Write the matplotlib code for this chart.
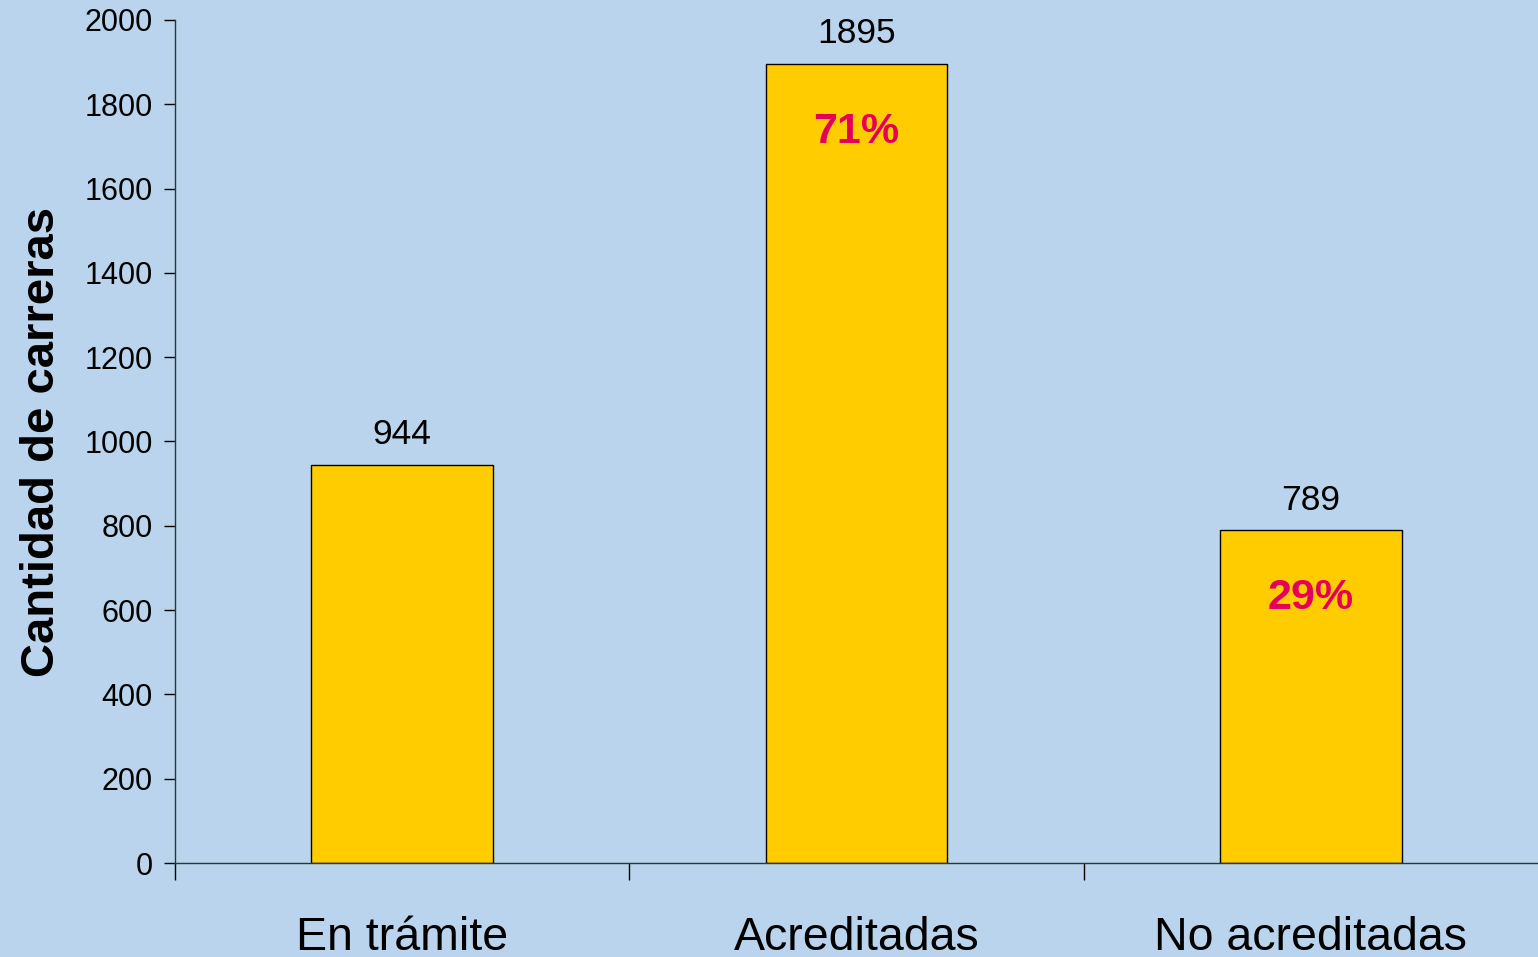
import matplotlib
matplotlib.use("Agg")
import matplotlib.pyplot as plt
import numpy as np

# ---- Data ----
categories = ["En trámite", "Acreditadas", "No acreditadas"]
values = [944, 1895, 789]
pct_labels = ["", "71%", "29%"]
y_ticks = list(range(0, 2001, 200))

BG = "#B9D4EC"
BAR = "#FFCC00"
PCT = "#E5005A"

plt.rcParams["font.family"] = ["Liberation Sans", "DejaVu Sans"]

fig = plt.figure(figsize=(15.38, 9.57), dpi=100, facecolor=BG)
ax = fig.add_axes([0.1138, 0.0982, 0.8862, 0.881])
ax.set_facecolor(BG)

x = np.arange(len(categories))
bars = ax.bar(x, values, width=0.4, color=BAR, edgecolor="black", linewidth=1)

ax.set_xlim(-0.5, 2.5)
ax.set_ylim(0, 2000)
ax.set_yticks(y_ticks)
ax.tick_params(axis="y", labelsize=22, length=8, width=1, direction="out", pad=8)

# category labels at centres, tick marks between categories
ax.set_xticks(x)
ax.set_xticklabels(categories, fontsize=33.5)
ax.tick_params(axis="x", which="major", length=0, pad=38)
ax.set_xticks(np.arange(-0.5, 3.0, 1.0)[:-1], minor=True)
ax.tick_params(axis="x", which="minor", length=12, width=1, direction="out")

for s in ["top", "right"]:
    ax.spines[s].set_visible(False)
for s in ["left", "bottom"]:
    ax.spines[s].set_color("#333333")
    ax.spines[s].set_linewidth(1)

ax.set_ylabel("Cantidad de carreras", fontsize=34, fontweight="bold", labelpad=15)

for xi, v, p in zip(x, values, pct_labels):
    ax.annotate(str(v), (xi, v), xytext=(0, 10), textcoords="offset points",
                ha="center", va="bottom", fontsize=25.5)
    if p:
        ax.annotate(p, (xi, v), xytext=(0, -49), textcoords="offset points",
                    ha="center", va="center", fontsize=31, fontweight="bold",
                    color=PCT)

fig.savefig("out.png", dpi=100, facecolor=BG)
